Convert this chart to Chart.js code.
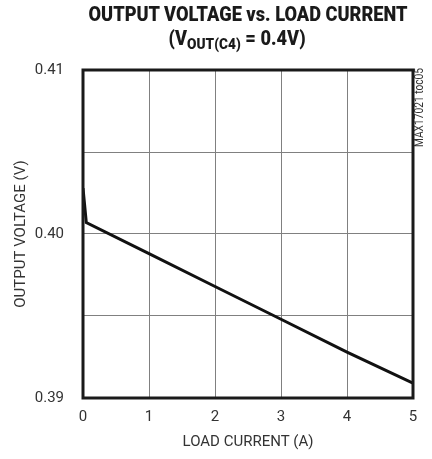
<!DOCTYPE html>
<html>
<head>
<meta charset="utf-8">
<script src="https://cdn.jsdelivr.net/npm/chart.js@4"></script>
<style>
  body { margin: 0; background: #fff; }
  #wrap { position: relative; width: 432px; height: 459px; }
  #title {
    position: absolute; left: 0; top: 2px; width: 496px; text-align: center;
    font-family: Roboto, "Liberation Sans", sans-serif;
    font-weight: 900; font-size: 20px; line-height: 24px; color: #1a1a1a;
    transform: scaleX(0.91); transform-origin: 248px 0;
  }
  #title sub { font-size: 15px; vertical-align: -4px; line-height: 0; }
  #title .l2 { position: relative; left: -12px; }
</style>
</head>
<body>
<div id="wrap">
  <canvas id="chart" width="432" height="459"></canvas>
  <div id="title">OUTPUT VOLTAGE vs. LOAD CURRENT<br><span class="l2">(V<sub>OUT(C4)</sub> = 0.4V)</span></div>
</div>
<script>
// load current (A) and output voltage (V)
var current = [0, 0.05, 1, 2, 3, 4, 5];
var voltage = [0.4028, 0.4007, 0.3988, 0.3968, 0.3948, 0.3928, 0.3909];
var yTickLabels = ["0.39", "0.40", "0.41"];
var xTickLabels = ["0", "1", "2", "3", "4", "5"];
var tocLabel = "MAX17021 toc05";

var fontFam = 'Roboto, "Liberation Sans", sans-serif';

var pts = current.map(function (c, i) { return { x: c, y: voltage[i] }; });

var frame = {
  id: "frame",
  afterDraw: function (chart) {
    var a = chart.chartArea, ctx = chart.ctx;
    ctx.save();
    ctx.strokeStyle = "#1a1a1a";
    ctx.lineWidth = 3;
    ctx.strokeRect(a.left, a.top, a.right - a.left, a.bottom - a.top);
    // side label, reads bottom to top
    ctx.translate(a.right + 7, a.top - 2);
    ctx.rotate(-Math.PI / 2);
    ctx.scale(0.85, 1);
    ctx.font = "12px " + fontFam;
    ctx.fillStyle = "#333";
    ctx.textAlign = "right";
    ctx.textBaseline = "middle";
    ctx.fillText(tocLabel, 0, 0);
    ctx.restore();
  }
};

new Chart(document.getElementById("chart"), {
  type: "scatter",
  data: {
    datasets: [{
      data: pts,
      showLine: true,
      borderColor: "#111",
      borderWidth: 3,
      pointRadius: 0,
      tension: 0
    }]
  },
  options: {
    responsive: false,
    animation: false,
    layout: { padding: { top: 70, right: 19, left: 0, bottom: 0 } },
    plugins: { legend: { display: false }, tooltip: { enabled: false } },
    scales: {
      x: {
        type: "linear", min: 0, max: 5,
        afterFit: function (s) { s.height = 61; },
        ticks: {
          stepSize: 1, padding: 10, color: "#333",
          font: { family: fontFam, size: 15 },
          callback: function (v) { return xTickLabels[Math.round(v)]; }
        },
        grid: { color: "#808080", lineWidth: 1, drawTicks: false },
        border: { display: false },
        title: {
          display: true, text: "LOAD CURRENT (A)", color: "#333",
          font: { family: fontFam, size: 15 }, padding: { top: 0, bottom: 8 }
        }
      },
      y: {
        type: "linear", min: 0.39, max: 0.41,
        afterFit: function (s) { s.width = 83; },
        ticks: {
          stepSize: 0.005, padding: 19, color: "#333",
          font: { family: fontFam, size: 15 },
          callback: function (v) {
            var k = Math.round(v * 1000);
            if (k % 10 !== 0) return "";
            return yTickLabels[(k - 390) / 10];
          }
        },
        grid: { color: "#808080", lineWidth: 1, drawTicks: false },
        border: { display: false },
        title: {
          display: true, text: "OUTPUT VOLTAGE (V)", color: "#333",
          font: { family: fontFam, size: 15 }, padding: { top: 12, bottom: 0 }
        }
      }
    }
  },
  plugins: [frame]
});
</script>
</body>
</html>
